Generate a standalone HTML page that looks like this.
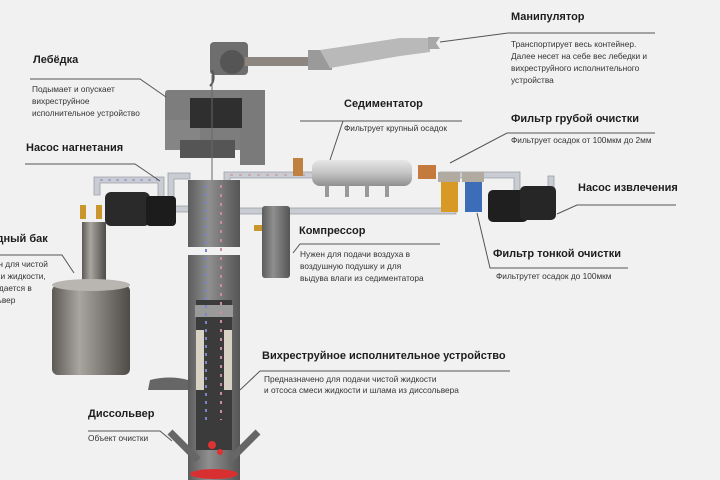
<!DOCTYPE html>
<html><head><meta charset="utf-8"><style>
html,body{margin:0;padding:0;background:#f1f1f1;}
svg{display:block;font-family:"Liberation Sans","DejaVu Sans",sans-serif;}
.h{font-size:11px;font-weight:bold;fill:#1e1e1e}
.t{font-size:8.3px;fill:#333}
.l{stroke:#555;stroke-width:1;fill:none}
.p{fill:#c9ccd2;stroke:#9a9ea6;stroke-width:0.8}
</style></head><body>
<svg width="720" height="480" viewBox="0 0 720 480" xmlns="http://www.w3.org/2000/svg">
<defs>
<linearGradient id="cyl" x1="0" x2="1"><stop offset="0" stop-color="#5d5a56"/><stop offset="0.35" stop-color="#a9a59f"/><stop offset="1" stop-color="#4e4b48"/></linearGradient>
<linearGradient id="col" x1="0" x2="1"><stop offset="0" stop-color="#5c5c5c"/><stop offset="0.4" stop-color="#8f8f8f"/><stop offset="1" stop-color="#555"/></linearGradient>
<linearGradient id="sil" x1="0" y1="0" x2="0" y2="1"><stop offset="0" stop-color="#e6e6e6"/><stop offset="0.5" stop-color="#c4c4c4"/><stop offset="1" stop-color="#8f8f8f"/></linearGradient>
</defs>
<rect width="720" height="480" fill="#f1f1f1"/>

<!-- manipulator -->
<rect x="210" y="42" width="38" height="33" rx="4" fill="#6e6e6e"/>
<circle cx="232" cy="62" r="12" fill="#555"/>
<rect x="245" y="57" width="85" height="9" fill="#8c8580"/>
<rect x="308" y="50" width="24" height="20" fill="#9a9a9a"/>
<polygon points="320,50 400,38 430,38 430,52 400,56 330,68" fill="#b9b9b9"/>
<path d="M428,37 l12,0 -4,6 4,6 -12,0z" fill="#a8a8a8"/>
<path d="M212,70 q4,10 -2,16" stroke="#555" stroke-width="2" fill="none"/>

<!-- winch -->
<rect x="165" y="90" width="100" height="60" rx="3" fill="#7d7d7d"/>
<rect x="165" y="120" width="35" height="30" fill="#858585"/>
<rect x="240" y="90" width="25" height="75" fill="#7a7a7a"/>
<rect x="190" y="98" width="52" height="30" fill="#2f2f2f"/>
<rect x="180" y="140" width="55" height="18" fill="#555"/>
<line x1="212" y1="75" x2="212" y2="185" stroke="#666" stroke-width="1"/>

<!-- pipes -->
<path class="p" d="M94,195 v-18 h70 v22 h-6 v-16 h-58 v12z"/>
<path class="p" d="M168,198 v-25 h22 v6 h-16 v19z"/>
<path class="p" d="M224,200 v-28 h90 v6 h-84 v22z"/>
<rect class="p" x="236" y="208" width="220" height="6"/>
<rect class="p" x="175" y="206" width="15" height="6"/>
<path class="p" d="M440,172 h80 v20 h-6 v-14 h-74z"/>
<rect class="p" x="548" y="176" width="6" height="14"/>
<line x1="100" y1="180" x2="160" y2="180" stroke="#7a86c8" stroke-width="1" stroke-dasharray="3,5"/>
<line x1="230" y1="175" x2="310" y2="175" stroke="#c88" stroke-width="1" stroke-dasharray="3,6"/>

<!-- left pump -->
<rect x="105" y="192" width="45" height="34" rx="6" fill="#2a2a2a"/>
<rect x="146" y="196" width="30" height="30" rx="4" fill="#1c1c1c"/>
<rect x="80" y="205" width="6" height="14" fill="#c8962c"/>
<rect x="96" y="205" width="6" height="14" fill="#c8962c"/>

<!-- tank -->
<rect x="82" y="222" width="24" height="60" fill="url(#cyl)"/>
<rect x="52" y="285" width="78" height="90" rx="6" fill="url(#cyl)"/>
<ellipse cx="91" cy="285" rx="39" ry="6" fill="#b9b5b0"/>

<!-- column -->
<rect x="188" y="180" width="52" height="67" fill="url(#col)"/>
<rect x="188" y="255" width="52" height="225" fill="url(#col)"/>
<rect x="196" y="300" width="36" height="150" fill="#3b3b3b"/>
<rect x="195" y="305" width="38" height="12" fill="#9a9a9a"/>
<rect x="196" y="330" width="8" height="60" fill="#d8d2c4"/>
<rect x="224" y="330" width="8" height="60" fill="#d8d2c4"/>
<line x1="206" y1="185" x2="206" y2="420" stroke="#7a86c8" stroke-width="2" stroke-dasharray="3,5"/>
<line x1="221" y1="185" x2="221" y2="420" stroke="#d08a9a" stroke-width="2" stroke-dasharray="3,6"/>
<path d="M150,380 q20,-5 38,0 v10 h-40z" fill="#666"/>
<path d="M170,432 l28,28 M258,432 l-28,28" stroke="#666" stroke-width="7"/>
<ellipse cx="214" cy="474" rx="24" ry="5" fill="#d83030"/>
<circle cx="212" cy="445" r="4" fill="#d33"/><circle cx="220" cy="452" r="3" fill="#d33"/>

<!-- sedimentator -->
<rect x="293" y="158" width="10" height="18" fill="#c08040"/>
<rect x="312" y="160" width="100" height="26" rx="8" fill="url(#sil)"/>
<rect x="325" y="185" width="4" height="12" fill="#999"/><rect x="345" y="185" width="4" height="12" fill="#999"/><rect x="365" y="185" width="4" height="12" fill="#999"/><rect x="385" y="185" width="4" height="12" fill="#999"/>
<rect x="418" y="165" width="18" height="14" fill="#c47a3c"/>

<!-- filters -->
<rect x="438" y="172" width="22" height="10" fill="#b0aaa0"/>
<rect x="441" y="182" width="17" height="30" fill="#d89a24"/>
<rect x="462" y="172" width="22" height="10" fill="#b0aaa0"/>
<rect x="465" y="182" width="17" height="30" fill="#3c6db8"/>

<!-- right pump -->
<rect x="488" y="190" width="40" height="32" rx="5" fill="#1f1f1f"/>
<rect x="520" y="186" width="36" height="34" rx="5" fill="#262626"/>

<!-- compressor -->
<rect x="262" y="206" width="28" height="72" rx="3" fill="url(#col)"/>
<rect x="254" y="225" width="8" height="6" fill="#c8962c"/>

<!-- callout lines -->
<polyline class="l" points="440,42 508,33 655,33"/>
<polyline class="l" points="30,79 140,79 166,97"/>
<polyline class="l" points="25,164 135,164 160,181"/>
<polyline class="l" points="300,121 462,121"/>
<polyline class="l" points="343,121 330,160"/>
<polyline class="l" points="450,163 507,133 655,133"/>
<polyline class="l" points="557,214 577,205 676,205"/>
<polyline class="l" points="293,253 300,244 440,244"/>
<polyline class="l" points="477,213 490,268 628,268"/>
<polyline class="l" points="0,255 62,255 74,273"/>
<polyline class="l" points="240,390 260,371 510,371"/>
<polyline class="l" points="88,431 160,431 172,441"/>

<!-- text -->
<text class="h" x="511" y="20">Манипулятор</text>
<text class="t" x="511" y="47">Транспортирует весь контейнер.</text>
<text class="t" x="511" y="59">Далее несет на себе вес лебедки и</text>
<text class="t" x="511" y="71">вихреструйного исполнительного</text>
<text class="t" x="511" y="83">устройства</text>

<text class="h" x="33" y="63">Лебёдка</text>
<text class="t" x="32" y="92">Подымает и опускает</text>
<text class="t" x="32" y="104">вихреструйное</text>
<text class="t" x="32" y="116">исполнительное устройство</text>

<text class="h" x="26" y="151">Насос нагнетания</text>

<text class="h" x="344" y="107">Седиментатор</text>
<text class="t" x="344" y="131">Фильтрует крупный осадок</text>

<text class="h" x="511" y="122">Фильтр грубой очистки</text>
<text class="t" x="511" y="143">Фильтрует осадок от 100мкм до 2мм</text>

<text class="h" x="578" y="191">Насос извлечения</text>

<text class="h" x="299" y="234">Компрессор</text>
<text class="t" x="300" y="257">Нужен для подачи воздуха в</text>
<text class="t" x="300" y="269">воздушную подушку и для</text>
<text class="t" x="300" y="281">выдува влаги из седиментатора</text>

<text class="h" x="493" y="257">Фильтр тонкой очистки</text>
<text class="t" x="496" y="279">Фильтрутет осадок до 100мкм</text>

<text class="h" x="-18" y="242">Водный бак</text>
<text class="t" x="-22" y="267">Нужен для чистой</text>
<text class="t" x="-22" y="279">подачи жидкости,</text>
<text class="t" x="-10" y="291">подается в</text>
<text class="t" x="-16" y="303">сольвер</text>

<text class="h" x="262" y="359">Вихреструйное исполнительное устройство</text>
<text class="t" x="264" y="382">Предназначено для подачи чистой жидкости</text>
<text class="t" x="264" y="393">и отсоса смеси жидкости и шлама из диссольвера</text>

<text class="h" x="88" y="417">Диссольвер</text>
<text class="t" x="88" y="441">Объект очистки</text>
</svg>
</body></html>
